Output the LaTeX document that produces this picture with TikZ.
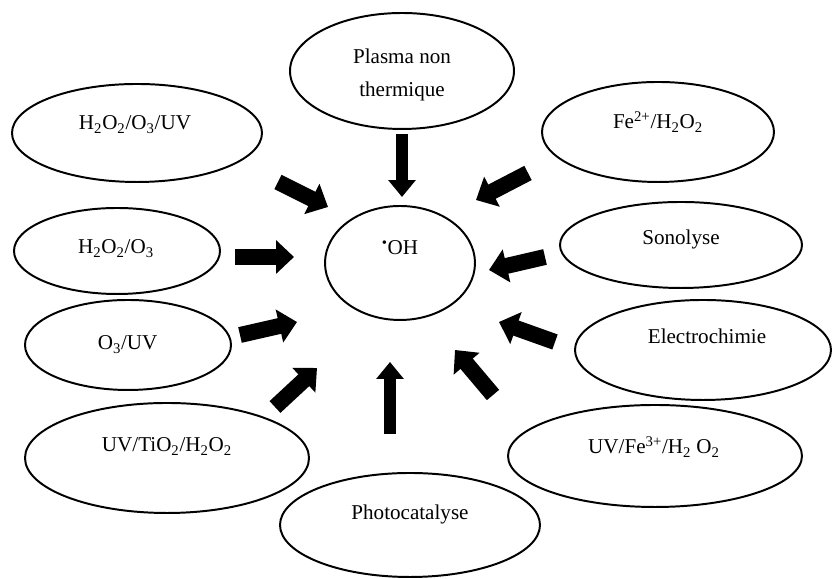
\documentclass[tikz,border=0pt]{standalone}
\usepackage{fontspec}
\setmainfont{Liberation Serif}
\usetikzlibrary{arrows.meta,shapes.geometric}
\tikzset{
  bubble/.style={
    draw=black,
    line width=1.4pt,
    ellipse,
    inner sep=0pt
  },
  txt/.style={
    text=black,
    font=\fontsize{15}{23.4}\selectfont,
    align=center
  },
  block/.style={
    draw=black,
    line width=0.4cm,
    -{Triangle[length=0.45cm,width=0.82cm]}
  },
  slim/.style={
    draw=black,
    line width=0.3cm,
    -{Triangle[length=0.42cm,width=0.66cm]}
  }
}

\begin{document}
\begin{tikzpicture}[x=1cm,y=1cm]
  \useasboundingbox (0,0) rectangle (20.8,14.475);

  % Centre: hydroxyl radical
  \node[bubble, minimum width=3.75cm, minimum height=2.85cm] (oh) at (10.0,7.9) {};
  \node[txt, anchor=base] (oh-t) at (10.0,8.1) {\textsuperscript{\textbullet}OH};

  % Processes, left side
  \node[bubble, minimum width=6.25cm, minimum height=2.45cm] (peruv) at (3.425,11.15) {};
  \node[txt, anchor=base] (peruv-t) at (3.375,11.225)
    {H\textsubscript{2}O\textsubscript{2}/O\textsubscript{3}/UV};
  \node[bubble, minimum width=5.15cm, minimum height=2.15cm] (perozone) at (2.925,8.2) {};
  \node[txt, anchor=base] (perozone-t) at (2.9,8.125)
    {H\textsubscript{2}O\textsubscript{2}/O\textsubscript{3}};
  \node[bubble, minimum width=5.15cm, minimum height=2.25cm] (ozuv) at (3.2,5.85) {};
  \node[txt, anchor=base] (ozuv-t) at (3.19,5.725) {O\textsubscript{3}/UV};
  \node[bubble, minimum width=7.1cm, minimum height=2.75cm] (tio) at (4.175,3.025) {};
  \node[txt, anchor=base] (tio-t) at (4.175,3.175)
    {UV/TiO\textsubscript{2}/H\textsubscript{2}O\textsubscript{2}};

  % Processes, top and bottom
  \node[bubble, minimum width=5.6cm, minimum height=2.9cm] (plasma) at (10.05,12.7) {};
  \node[txt] (plasma-t) at (10.05,12.6) {Plasma non\\thermique};
  \node[bubble, minimum width=6.5cm, minimum height=2.6cm] (photo) at (10.25,1.35) {};
  \node[txt, anchor=base] (photo-t) at (10.25,1.475) {Photocatalyse};

  % Processes, right side
  \node[bubble, minimum width=5.8cm, minimum height=2.5cm] (fenton) at (16.45,11.175) {};
  \node[txt, anchor=base] (fenton-t) at (16.45,11.25)
    {Fe\textsuperscript{2+}/H\textsubscript{2}O\textsubscript{2}};
  \node[bubble, minimum width=6.05cm, minimum height=2.15cm] (sono) at (17.025,8.35) {};
  \node[txt, anchor=base] (sono-t) at (17.025,8.35) {Sonolyse};
  \node[bubble, minimum width=6.4cm, minimum height=2.5cm] (electro) at (17.575,5.725) {};
  \node[txt, anchor=base] (electro-t) at (17.675,5.875) {Electrochimie};
  \node[bubble, minimum width=7.35cm, minimum height=2.55cm] (photofenton) at (16.375,3.075) {};
  \node[txt, anchor=base] (photofenton-t) at (16.35,3.125)
    {UV/Fe\textsuperscript{3+}/H\textsubscript{2} O\textsubscript{2}};

  % Block arrows towards the radical
  \coordinate (plasma-s) at (10.05,11.125);
  \coordinate (plasma-e) at (10.05,9.55);
  \coordinate (peruv-s) at (6.95,9.925);
  \coordinate (peruv-e) at (8.2,9.3);
  \coordinate (fenton-s) at (13.2,10.15);
  \coordinate (fenton-e) at (11.9,9.475);
  \coordinate (perozone-s) at (5.875,8.05);
  \coordinate (perozone-e) at (7.35,8.05);
  \coordinate (sono-s) at (13.625,8.05);
  \coordinate (sono-e) at (12.225,7.725);
  \coordinate (ozuv-s) at (6.0,6.1);
  \coordinate (ozuv-e) at (7.425,6.425);
  \coordinate (electro-s) at (13.875,5.925);
  \coordinate (electro-e) at (12.475,6.425);
  \coordinate (tio-s) at (6.875,4.3);
  \coordinate (tio-e) at (7.925,5.275);
  \coordinate (photofenton-s) at (12.325,4.6);
  \coordinate (photofenton-e) at (11.375,5.725);
  \coordinate (photo-s) at (9.75,3.625);
  \coordinate (photo-e) at (9.75,5.425);

  \draw[slim] (plasma-s) -- (plasma-e);
  \draw[slim] (photo-s) -- (photo-e);
  \foreach \n in {peruv,fenton,perozone,sono,ozuv,electro,tio,photofenton} {
    \draw[block] (\n-s) -- (\n-e);
  }
\end{tikzpicture}
\end{document}
